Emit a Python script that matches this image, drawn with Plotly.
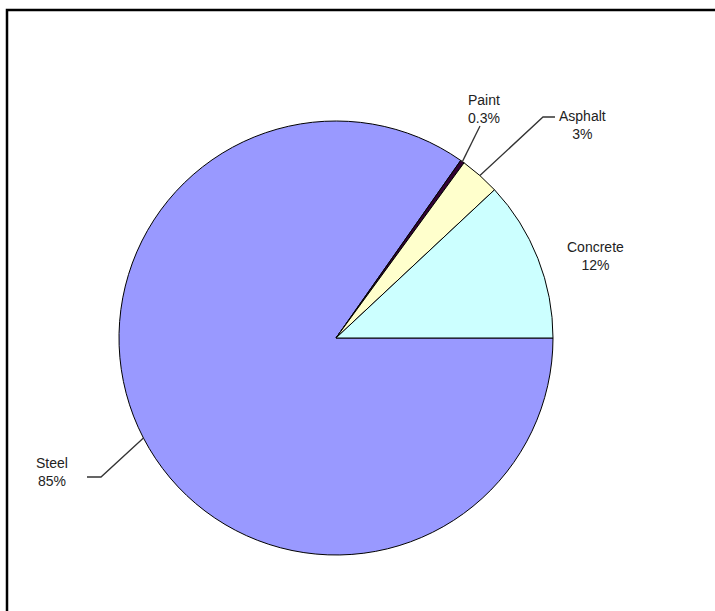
import math
import plotly.graph_objects as go

# Share of materials (percent), listed clockwise starting at 3 o'clock
materials = ["Steel", "Paint", "Asphalt", "Concrete"]
shares = [85, 0.3, 3, 12]
share_labels = ["85%", "0.3%", "3%", "12%"]
colors = ["#9999FF", "#330033", "#FFFFCC", "#CCFFFF"]

W, H = 715, 611
CX, CY, R = 336, 338, 217   # pie centre and radius in pixels
START = 90                  # start angle, degrees clockwise from 12 o'clock


def px(x, y):
    return x / W, 1 - y / H


fig = go.Figure(go.Pie(
    labels=materials,
    values=shares,
    sort=False,
    direction="clockwise",
    rotation=START,
    marker=dict(colors=colors, line=dict(color="#000000", width=1)),
    textinfo="none",
    hoverinfo="label+percent",
    showlegend=False,
    domain=dict(x=[(CX - R) / W, (CX + R) / W],
                y=[1 - (CY + R) / H, 1 - (CY - R) / H]),
))

# mid angle of every slice, from the values
total = sum(shares)
mids = {}
acc = START
for name, v in zip(materials, shares):
    span = v / total * 360
    mids[name] = acc + span / 2
    acc += span


def edge(name):
    a = math.radians(mids[name])
    return CX + R * math.sin(a), CY - R * math.cos(a)


# label placement (pixels): text centre and leader route after the pie edge
label_pos = {
    "Paint": (484, 109, [(480, 126)]),
    "Asphalt": (582, 125, [(543, 117), (555, 117)]),
    "Concrete": (595, 256, None),
    "Steel": (52, 472, [(101, 477), (87, 477)]),
}

shapes = []
annotations = []
for name, lab in zip(materials, share_labels):
    tx, ty, route = label_pos[name]
    if route:
        pts = [edge(name)] + route
        path = "M " + " L ".join("{:.5f},{:.5f}".format(*px(x, y)) for x, y in pts)
        shapes.append(dict(type="path", xref="paper", yref="paper", path=path,
                           line=dict(color="#333333", width=1.3)))
    ax, ay = px(tx, ty)
    annotations.append(dict(x=ax, y=ay, xref="paper", yref="paper",
                            text=f"{name}<br>{lab}", showarrow=False,
                            xanchor="center", yanchor="middle", align="center",
                            font=dict(family="Liberation Sans, Arial", size=14,
                                      color="#222222")))

# frame around the chart area
x0, y1 = px(7, 10)
shapes.append(dict(type="rect", xref="paper", yref="paper",
                   x0=x0, x1=1.05, y0=-0.05, y1=y1,
                   line=dict(color="#000000", width=2.5)))

fig.update_layout(
    width=W, height=H,
    margin=dict(l=0, r=0, t=0, b=0),
    paper_bgcolor="white",
    plot_bgcolor="white",
    shapes=shapes,
    annotations=annotations,
)

fig.write_html("out.html")
